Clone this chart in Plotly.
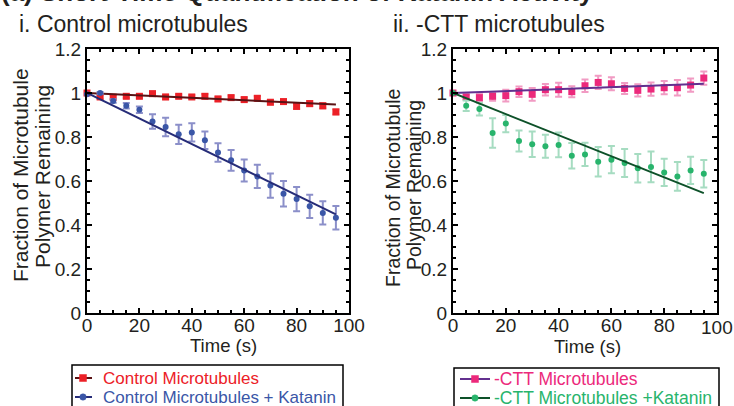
import plotly.graph_objects as go

W, H = 734, 406

time_s = [0, 5, 10, 15, 20, 25, 30, 35, 40, 45, 50, 55, 60, 65, 70, 75, 80, 85, 90, 95]

ctrl = [1.0, 0.982, 0.981, 0.985, 0.985, 0.997, 0.982, 0.985, 0.982, 0.985,
        0.973, 0.979, 0.970, 0.976, 0.958, 0.961, 0.939, 0.952, 0.942, 0.914]
ctrl_err = [0.0, 0.008, 0.010, 0.008, 0.008, 0.010, 0.010, 0.008, 0.008, 0.010,
            0.010, 0.010, 0.010, 0.010, 0.010, 0.010, 0.012, 0.012, 0.012, 0.012]
ctrl_fit = [1.0, 0.948]

ctrl_kat = [0.994, 1.0, 0.964, 0.942, 0.924, 0.870, 0.845, 0.812, 0.821, 0.785,
            0.730, 0.694, 0.648, 0.621, 0.579, 0.542, 0.518, 0.485, 0.455, 0.433]
ctrl_kat_err = [0.0, 0.005, 0.008, 0.012, 0.015, 0.033, 0.042, 0.044, 0.042, 0.040,
                0.042, 0.047, 0.050, 0.053, 0.055, 0.058, 0.055, 0.053, 0.053, 0.053]
ctrl_kat_fit = [1.0, 0.448]

ctt = [1.0, 0.982, 0.979, 0.985, 0.988, 1.006, 0.994, 1.015, 1.015, 1.006,
       1.033, 1.048, 1.042, 1.021, 1.012, 1.018, 1.024, 1.024, 1.036, 1.068]
ctt_err = [0.0, 0.010, 0.018, 0.020, 0.027, 0.024, 0.029, 0.026, 0.032, 0.025,
           0.028, 0.030, 0.030, 0.025, 0.028, 0.030, 0.030, 0.035, 0.030, 0.030]
ctt_fit = [1.0, 1.042]

ctt_kat = [1.0, 0.942, 0.927, 0.818, 0.861, 0.782, 0.767, 0.758, 0.764, 0.715,
           0.721, 0.688, 0.697, 0.682, 0.658, 0.664, 0.639, 0.621, 0.648, 0.633]
ctt_kat_err = [0.0, 0.024, 0.029, 0.067, 0.039, 0.048, 0.058, 0.052, 0.056, 0.058,
               0.053, 0.067, 0.062, 0.064, 0.065, 0.070, 0.062, 0.065, 0.062, 0.062]
ctt_kat_fit = [1.0, 0.545]

fit_x = [0, 95]

x_ticks = [0, 20, 40, 60, 80, 100]
y_ticks = [0, 0.2, 0.4, 0.6, 0.8, 1, 1.2]
y_tick_text = ["0", "0.2", "0.4", "0.6", "0.8", "1", "1.2"]

legend_left = ["Control Microtubules", "Control Microtubules + Katanin"]
legend_right = ["-CTT Microtubules", "-CTT Microtubules +Katanin"]

FONT = "Liberation Sans, Arial, Helvetica, sans-serif"
INK = "#231f20"

C_RED, C_RED_E, C_RED_L = "#ec2027", "#f49a9c", "#5a1214"
C_BLU, C_BLU_E, C_BLU_L = "#3a56a7", "#8b8fc9", "#262c78"
C_PNK, C_PNK_E, C_PNK_L = "#ec297b", "#f19bc3", "#63308f"
C_GRN, C_GRN_E, C_GRN_L = "#28b46c", "#a6dcc1", "#0d5129"

fig = go.Figure()


def add_series(xa, ya, y, err, fit, mcol, ecol, lcol, symbol, msize):
    fig.add_trace(go.Scatter(
        x=time_s, y=y, mode="markers", xaxis=xa, yaxis=ya,
        marker=dict(color=mcol, size=msize, symbol=symbol),
        error_y=dict(type="data", array=err, color=ecol, thickness=2, width=3.5),
        cliponaxis=False, showlegend=False))
    fig.add_trace(go.Scatter(
        x=fit_x, y=fit, mode="lines", xaxis=xa, yaxis=ya,
        line=dict(color=lcol, width=2), showlegend=False))


add_series("x", "y", ctrl, ctrl_err, ctrl_fit, C_RED, C_RED_E, C_RED_L, "square", 7)
add_series("x", "y", ctrl_kat, ctrl_kat_err, ctrl_kat_fit, C_BLU, C_BLU_E, C_BLU_L, "circle", 6)
add_series("x2", "y2", ctt, ctt_err, ctt_fit, C_PNK, C_PNK_E, C_PNK_L, "square", 7)
add_series("x2", "y2", ctt_kat, ctt_kat_err, ctt_kat_fit, C_GRN, C_GRN_E, C_GRN_L, "circle", 6)


def px(x):
    return x / W


def py(y):
    return (H - y) / H


axis_common = dict(
    showline=True, linecolor="black", linewidth=2, mirror="ticks",
    ticks="inside", ticklen=5, tickwidth=2, tickcolor="black",
    showgrid=False, zeroline=False,
    tickfont=dict(family=FONT, size=19, color=INK),
    minor=dict(ticks="inside", ticklen=3, tickwidth=1.5, tickcolor="black", showgrid=False),
)

xcommon = dict(axis_common, range=[0, 100], tickvals=x_ticks, ticklabelstandoff=-6)
xcommon["minor"] = dict(axis_common["minor"], dtick=5)
ycommon = dict(axis_common, range=[0, 1.2], tickvals=y_ticks, ticktext=y_tick_text)
ycommon["minor"] = dict(axis_common["minor"], dtick=0.05)

y_dom = [py(313), py(49)]

fig.update_layout(
    width=W, height=H,
    margin=dict(l=0, r=0, t=0, b=0, autoexpand=False),
    paper_bgcolor="white", plot_bgcolor="white",
    xaxis=dict(xcommon, domain=[px(87), px(349)], anchor="y"),
    yaxis=dict(ycommon, domain=y_dom, anchor="x"),
    # last tick label of the right panel runs into the page edge; it is added below
    xaxis2=dict(xcommon, domain=[px(453), px(717)], anchor="y2",
                tickvals=x_ticks[:-1]),
    yaxis2=dict(ycommon, domain=y_dom, anchor="x2"),
    showlegend=False,
)

ann = []
shapes = []


def text(t, x, y, size, color=INK, xanchor="left", yanchor="middle", angle=0):
    ann.append(dict(text=t, x=px(x), y=py(y), xref="paper", yref="paper",
                    xanchor=xanchor, yanchor=yanchor, textangle=angle, showarrow=False,
                    font=dict(family=FONT, size=size, color=color)))


text("<b>(a) Short-Time Quantification of Katanin Activity</b>", -1, 9, 26, yanchor="bottom")
text("i. Control microtubules", 17, 24, 23)
text("ii. -CTT microtubules", 391, 24, 23)

# y-axis titles (two lines each)
text("Fraction of Microtubule", 20, 175, 21, xanchor="center", angle=-90)
text("Polymer Remaining", 42, 177, 21, xanchor="center", angle=-90)
text("Fraction of Microtubule", 393, 188, 19.5, xanchor="center", angle=-90)
text("Polymer Remaining", 414, 185, 19.5, xanchor="center", angle=-90)

# x-axis titles
text("Time (s)", 223, 345, 18.5, xanchor="center")
text("Time (s)", 587, 346, 18.5, xanchor="center")

# right-panel final x tick label, placed on the x2 scale
ann.append(dict(text=str(x_ticks[-1]), x=x_ticks[-1], xref="x2", y=py(327), yref="paper",
                xanchor="center", yanchor="middle", showarrow=False,
                font=dict(family=FONT, size=19, color=INK)))


# legends (drawn as boxes with sample symbols)
def legend_box(x0, x1, y0):
    shapes.append(dict(type="rect", xref="paper", yref="paper",
                       x0=px(x0), x1=px(x1), y0=py(y0), y1=py(430),
                       line=dict(color="black", width=1.5), fillcolor="white", layer="above"))


def legend_item(lx0, lx1, mx, y, tx, label, mcol, lcol, symbol, size):
    shapes.append(dict(type="line", xref="paper", yref="paper",
                       x0=px(lx0), x1=px(lx1), y0=py(y), y1=py(y),
                       line=dict(color=lcol, width=2), layer="above"))
    r = 3.5 if symbol == "square" else 3.2
    shapes.append(dict(type="rect" if symbol == "square" else "circle",
                       xref="paper", yref="paper",
                       x0=px(mx - r), x1=px(mx + r), y0=py(y + r), y1=py(y - r),
                       line=dict(color=mcol, width=0.5), fillcolor=mcol, layer="above"))
    text(label, tx, y, size, color=mcol)


legend_box(72, 343, 365)
legend_item(75, 92, 83, 378, 101, legend_left[0], C_RED, C_RED_L, "square", 17)
legend_item(75, 92, 83, 397, 101, legend_left[1], C_BLU, C_BLU_L, "circle", 17)

legend_box(454, 719, 368)
legend_item(460, 490, 475, 379, 492, legend_right[0], C_PNK, C_PNK_L, "square", 17.5)
legend_item(460, 490, 475, 398, 492, legend_right[1], C_GRN, C_GRN_L, "circle", 17.5)

fig.update_layout(annotations=ann, shapes=shapes)

fig.write_html(
    "out.html",
    config={"displayModeBar": False},
    post_script="document.body.style.margin='0';document.body.style.overflow='hidden';",
)
